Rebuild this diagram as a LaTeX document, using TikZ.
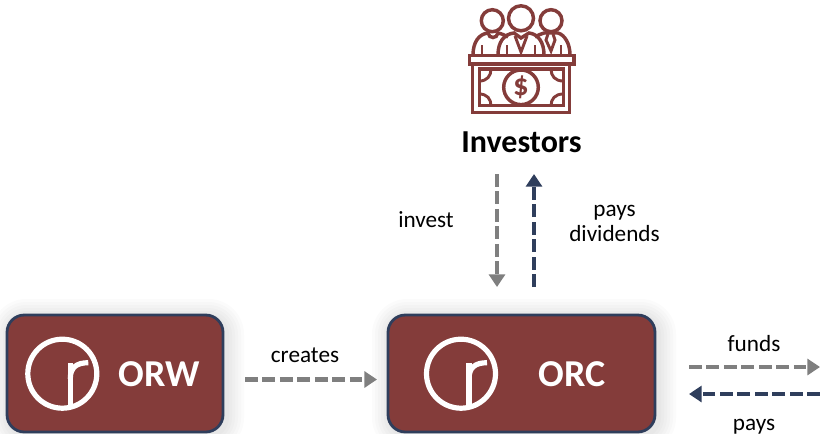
\documentclass[tikz,border=0pt]{standalone}
\usepackage{fontspec}
\setmainfont{Carlito}
\definecolor{brick}{HTML}{843C3A}
\definecolor{navy}{HTML}{2F3E5C}
\definecolor{midgray}{HTML}{7F7F7F}
\usetikzlibrary{arrows.meta}
\tikzset{
 x=0.75pt,y=-0.75pt,
 icon/.style={draw=brick,line width=2.6pt,line join=miter},
 thinicon/.style={draw=brick,line width=2.2pt,line join=miter},
 logo/.style={draw=white,line width=3.9pt},
 card/.style={draw=navy,fill=brick,line width=2.1pt,rounded corners=13pt},
 graylink/.style={draw=midgray,line width=3.4pt,dash pattern=on 9.5pt off 3.6pt,-{Triangle[length=9.5pt,width=12pt,fill=midgray]}},
 navylink/.style={draw=navy,line width=3.4pt,dash pattern=on 9.5pt off 3.6pt,-{Triangle[length=9.5pt,width=12pt,fill=navy]}},
 lab/.style={font=\fontsize{17.4pt}{18pt}\selectfont,text=black,inner sep=0pt,align=center,anchor=base},
 boxtitle/.style={font=\fontsize{28.5pt}{30pt}\selectfont\bfseries,text=white,inner sep=0pt},
}
\newcommand{\softshadow}[4]{%
 \foreach \g in {18,15,12,9,6,3}{
  \fill[black,opacity=0.016,rounded corners=13pt+\g*0.75pt] (#1-\g+2,#2-\g+2) rectangle (#3+\g+3,#4+\g+3);}}
\newcommand{\brandlogo}[2]{%
 \draw[logo] (#1,#2) circle (34.5);
 \draw[logo] (#1+8,#2+34) -- (#1+8,#2-11);
 \draw[logo] (#1+8,#2+5) .. controls (#1+8,#2-6) and (#1+14,#2-11) .. (#1+26,#2-11);}
\begin{document}
\begin{tikzpicture}
\useasboundingbox (0,0) rectangle (820,433);
\begin{scope}
\clip (0,0) rectangle (820,433);
\softshadow{7}{315}{223}{432}
\softshadow{388}{315}{655}{432}
\path[card] (7,315) rectangle (223,432);
\path[card] (388,315) rectangle (655,432);
\brandlogo{62.3}{373.7}
\brandlogo{461}{373.7}
\end{scope}
\node[boxtitle] (orw) at (159,374) {ORW};
\node[boxtitle] (orc) at (572,374) {ORC};
% investors icon
\draw[icon] (492.3,20.7) circle (11);
\draw[icon] (521,18.3) circle (12.5);
\draw[icon] (551,20.7) circle (11);
\draw[icon] (473,55) .. controls (473,42) and (479,34) .. (488,33) .. controls (489,39) and (497,39) .. (498,33) .. controls (502,34) and (505,35) .. (508,37);
\draw[icon] (498,55) .. controls (498,42) and (504,34) .. (514,33) -- (521,38) -- (529,33) .. controls (538,34) and (544,42) .. (544,55);
\draw[icon] (535,37) .. controls (538,35) and (541,34) .. (544,33) -- (558,33) .. controls (565,35) and (570,44) .. (570,55);
\draw[thinicon] (482,55) -- (482,45) (507,55) -- (507,45) (535,55) -- (535,45) (561,55) -- (561,45);
\draw[thinicon] (515,36) -- (521,52) -- (527,36);
\draw[thinicon] (548,34) -- (546,40) -- (551,51) -- (555,40) -- (553,34);
\draw[icon] (469.5,55.7) rectangle (574,64);
\draw[icon] (472.3,64) rectangle (569.3,112.7);
\draw[icon] (479.3,69) rectangle (563.3,105.7);
\draw[icon] (521,87.3) circle (17.3);
\draw[thinicon] (479.3,81) .. controls (487,81) and (491,76) .. (491,69);
\draw[thinicon] (563.3,81) .. controls (555,81) and (551,76) .. (551,69);
\draw[thinicon] (479.3,94) .. controls (487,94) and (491,99) .. (491,105.7);
\draw[thinicon] (563.3,94) .. controls (555,94) and (551,99) .. (551,105.7);
\node[inner sep=0pt,text=brick,font=\fontsize{23pt}{24pt}\selectfont\bfseries] (dollar) at (521,87.3) {\$};
\node[inner sep=0pt,font=\fontsize{24pt}{26pt}\selectfont\bfseries] (investors) at (521.5,142) {Investors};
\node[lab] (invest) at (426,227) {invest};
\node[lab] (paysd) at (614.5,216) {pays};
\node[lab] (dividends) at (614.5,241) {dividends};
\node[lab] (creates) at (305,362) {creates};
\node[lab] (funds) at (754,351) {funds};
\node[lab] (pays) at (754,430) {pays};
\coordinate (ia) at (497,174); \coordinate (ib) at (497,287);
\coordinate (da) at (534,287); \coordinate (db) at (534,174);
\coordinate (ca) at (245,379.5); \coordinate (cb) at (377,379.5);
\coordinate (fa) at (689,367); \coordinate (fb) at (820,367);
\coordinate (pa) at (820,394); \coordinate (pb) at (689,394);
\draw[graylink] (ia) -- (ib);
\draw[navylink] (da) -- (db);
\draw[graylink] (ca) -- (cb);
\draw[graylink] (fa) -- (fb);
\draw[navylink] (pa) -- (pb);
\end{tikzpicture}
\end{document}
